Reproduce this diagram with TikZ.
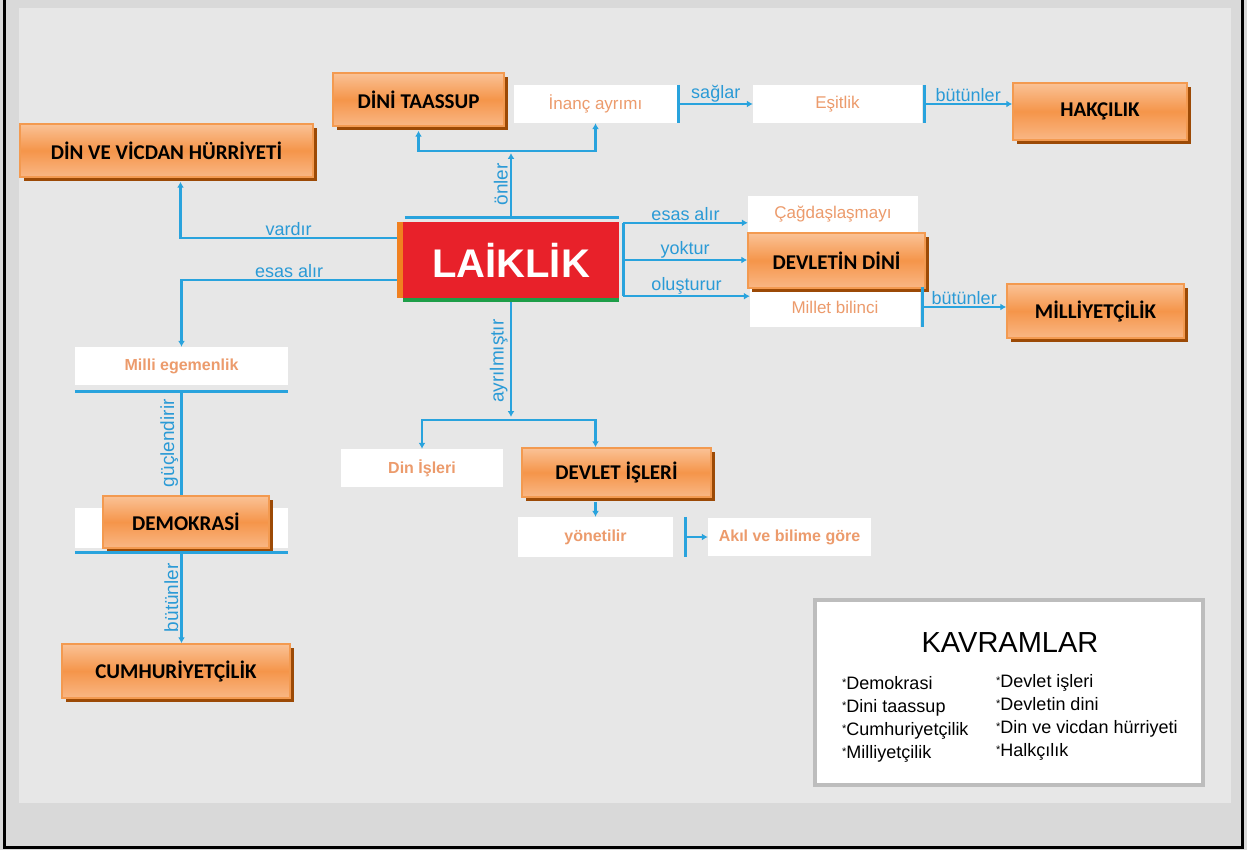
\documentclass[tikz,border=0pt]{standalone}
\usepackage{fontspec}
\setmainfont{Liberation Sans}
\newfontfamily\carlito{Carlito}
\usetikzlibrary{arrows.meta,shadows}

\definecolor{bgouter}{HTML}{D9D9D9}
\definecolor{bginner}{HTML}{E7E7E7}
\definecolor{lblue}{HTML}{29A3DD}
\definecolor{tblue}{HTML}{2A9AD6}
\definecolor{wtext}{HTML}{EC9B6C}
\definecolor{conctop}{HTML}{FAC296}
\definecolor{concmid}{HTML}{F5954A}
\definecolor{concbot}{HTML}{F9B785}
\definecolor{concline}{HTML}{F39A50}
\definecolor{concshadow}{HTML}{9C4A06}
\definecolor{laikred}{HTML}{E8212A}
\definecolor{laikgreen}{HTML}{1E9E48}
\definecolor{laikorange}{HTML}{F08020}
\definecolor{kavline}{HTML}{BDBDBD}

\newcommand{\kavstar}{\raisebox{3pt}{\fontsize{11}{11}\selectfont *}}

\tikzset{
  conc/.style={draw=concline, line width=1.5pt, top color=conctop, bottom color=concbot, middle color=concmid,
    inner sep=0pt, font=\carlito\bfseries\fontsize{21}{24}\selectfont,
    drop shadow={shadow xshift=4pt, shadow yshift=-4pt, fill=concshadow, opacity=1}},
  wbox/.style={fill=white, inner sep=0pt, text=wtext, font=\fontsize{17}{20}\selectfont},
  wboxb/.style={wbox, font=\bfseries\fontsize{16}{20}\selectfont},
  bline/.style={draw=lblue, line width=3pt},
  barrow/.style={draw=lblue, line width=2.5pt, -{Latex[length=6pt,width=7pt]}},
  blabel/.style={text=tblue, font=\fontsize{18}{20}\selectfont, inner sep=1pt},
  vlabel/.style={blabel, font=\fontsize{19}{20}\selectfont, rotate=90, anchor=south, inner sep=2pt},
  kavitem/.style={font=\fontsize{18}{20}\selectfont, inner sep=0pt, anchor=base west},
}

\begin{document}
\begin{tikzpicture}[x=1pt,y=-1pt]
\useasboundingbox (0,0) rectangle (1247,850);
\fill[bgouter] (0,0) rectangle (1247,850);
\fill[bginner] (19,8) rectangle (1231,803);
\draw[black, line width=3pt] (4.5,0) -- (4.5,847.5) -- (1242.5,847.5) -- (1242.5,0);

\node[wbox, minimum width=163pt, minimum height=38pt] (inanc) at (595.5,104) {İnanç ayrımı};
\node[wbox, minimum width=169pt, minimum height=38pt] (esitlik) at (837.5,104) {Eşitlik};
\node[wbox, minimum width=170pt, minimum height=36pt] (cagdas) at (833,214) {Çağdaşlaşmayı};
\node[wbox, minimum width=170pt, minimum height=40pt] (millet) at (835,307) {Millet bilinci};
\node[wboxb, minimum width=213pt, minimum height=38pt] (milliege) at (181.5,366) {Milli egemenlik};
\node[wbox, minimum width=213pt, minimum height=40pt] (demowhite) at (181.5,528) {};
\node[wboxb, minimum width=162pt, minimum height=38pt] (dinisleri) at (422,468) {Din İşleri};
\node[wboxb, minimum width=155pt, minimum height=40pt] (yonetilir) at (595.5,537) {yönetilir};
\node[wboxb, minimum width=163pt, minimum height=38pt] (akil) at (789.5,537) {Akıl ve bilime göre};

\node[fill=laikred, text=white, minimum width=216pt, minimum height=76pt, inner sep=0pt,
  font=\bfseries\fontsize{40}{40}\selectfont] (laiklik) at (511,260) {LAİKLİK};
\fill[laikorange] ([xshift=-6pt]laiklik.north west) rectangle (laiklik.south west);
\fill[laikgreen] (laiklik.south west) rectangle ([yshift=-4pt]laiklik.south east);

\node[conc, minimum width=171pt, minimum height=53pt] (dinitaassup) at (418.5,99.5) {DİNİ TAASSUP};
\node[conc, minimum width=174pt, minimum height=57pt] (hakcilik) at (1100,111.5) {HAKÇILIK};
\node[conc, minimum width=293pt, minimum height=53pt] (dinvicdan) at (166.5,150.5) {DİN VE VİCDAN HÜRRİYETİ};
\node[conc, minimum width=177pt, minimum height=55pt] (devletdini) at (836.5,260.5) {DEVLETİN DİNİ};
\node[conc, minimum width=177pt, minimum height=54pt] (milliyet) at (1095.5,311) {MİLLİYETÇİLİK};
\node[conc, minimum width=166pt, minimum height=52pt] (demokrasi) at (186,522) {DEMOKRASİ};
\node[conc, minimum width=228pt, minimum height=54pt] (cumhur) at (176,671) {CUMHURİYETÇİLİK};
\node[conc, minimum width=189pt, minimum height=49pt] (devletisleri) at (616.5,472.5) {DEVLET İŞLERİ};

\coordinate (onlerj) at (511,151);
\coordinate (r1) at ([xshift=4pt,yshift=-1pt]laiklik.north east);
\coordinate (r3) at ([xshift=4pt,yshift=2pt]laiklik.south east);
\coordinate (ayrj) at (511,420);

\draw[bline] ([xshift=2pt,yshift=4pt]laiklik.north west) -- ([yshift=4pt]laiklik.north east);
\draw[barrow, shorten >=2pt] ([yshift=4pt]laiklik.north) -- (onlerj) node[vlabel, midway] {önler};
\draw[barrow, shorten >=4pt] (onlerj) -| (dinitaassup.south);
\draw[barrow] (onlerj) -| (inanc.south);

\draw[bline] ([xshift=1.5pt]inanc.north east) -- ([xshift=1.5pt]inanc.south east);
\draw[barrow] ([xshift=1.5pt]inanc.east) -- (esitlik.west) node[blabel, midway, above] {sağlar};
\draw[bline] ([xshift=2pt]esitlik.north east) -- ([xshift=2pt]esitlik.south east);
\draw[barrow] ([xshift=2pt]esitlik.east) -- (esitlik.east -| hakcilik.west) node[blabel, midway, above] {bütünler};

\draw[bline] (r1) -- (r3);
\draw[barrow] (r1) -- (r1 -| cagdas.west) node[blabel, midway, above] {esas alır};
\draw[barrow] (r1 |- laiklik.east) -- (devletdini.west |- laiklik.east) node[blabel, midway, above] {yoktur};
\draw[barrow] (r3) -- (r3 -| millet.west) node[blabel, midway, above] {oluşturur};
\draw[bline] ([xshift=2pt]millet.north east) -- ([xshift=2pt]millet.south east);
\draw[barrow] ([xshift=2pt]millet.east) -- (millet.east -| milliyet.west) node[blabel, midway, above] {bütünler};

\draw[barrow, shorten >=4pt] ([xshift=-6pt,yshift=22pt]laiklik.west) -| ([xshift=14pt]dinvicdan.south)
  node[blabel, pos=0.25, above] {vardır};
\draw[barrow] ([xshift=-6pt,yshift=-20pt]laiklik.west) -| (milliege.north)
  node[blabel, pos=0.25, above] {esas alır};
\draw[bline] ([yshift=-6pt]milliege.south west) -- ([yshift=-6pt]milliege.south east);
\draw[barrow, -] ([yshift=-6pt]milliege.south) -- (milliege.south |- demokrasi.north) node[vlabel, midway] {güçlendirir};
\draw[bline] ([yshift=-4pt]demowhite.south west) -- ([yshift=-4pt]demowhite.south east);
\draw[barrow] ([yshift=-4pt]demowhite.south) -- (demowhite.south |- cumhur.north) node[vlabel, midway] {bütünler};

\draw[barrow, shorten >=3pt] ([yshift=-4pt]laiklik.south) -- (ayrj) node[vlabel, midway] {ayrılmıştır};
\draw[barrow] (ayrj) -| (dinisleri.north);
\draw[barrow] (ayrj) -| (yonetilir.north |- devletisleri.north);
\draw[barrow] ([yshift=-4pt]devletisleri.south -| yonetilir.north) -- (yonetilir.north);
\draw[bline] ([xshift=12pt]yonetilir.north east) -- ([xshift=12pt]yonetilir.south east);
\draw[barrow] ([xshift=12pt]yonetilir.east) -- (akil.west);

\node[draw=kavline, line width=4pt, fill=white, minimum width=388pt, minimum height=185pt, inner sep=0pt] (kavbox) at (1009,692.5) {};
\node[font=\fontsize{29}{32}\selectfont, inner sep=0pt] (kavtitle) at (1010,643) {KAVRAMLAR};
\foreach \txt [count=\i] in {Demokrasi, Dini taassup, Cumhuriyetçilik, Milliyetçilik}
  \node[kavitem] (kavsol\i) at (842,666+23*\i) {\kavstar\txt};
\foreach \txt [count=\i] in {Devlet işleri, Devletin dini, Din ve vicdan hürriyeti, Halkçılık}
  \node[kavitem] (kavsag\i) at (996,664+23*\i) {\kavstar\txt};
\end{tikzpicture}
\end{document}
